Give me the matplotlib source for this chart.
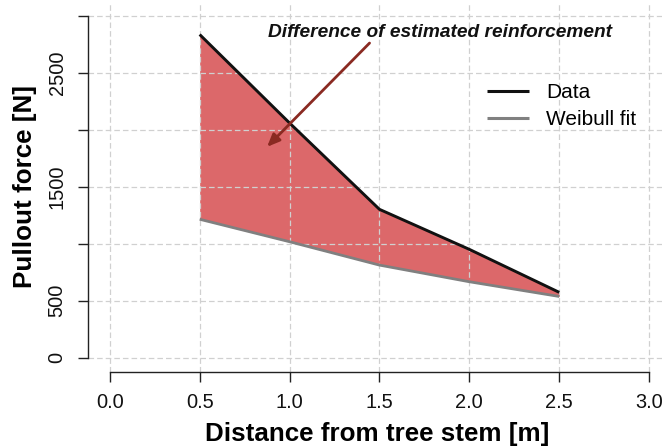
import matplotlib
matplotlib.use("Agg")
import matplotlib.pyplot as plt

plt.rcParams['font.family'] = ['Liberation Sans', 'DejaVu Sans']
plt.rcParams['lines.scale_dashes'] = False

# Pullout force along the distance from the stem
distance = [0.5, 1.0, 1.5, 2.0, 2.5]
force_data = [2835, 2059, 1302, 951, 574]
force_weibull = [1215, 1018, 813, 667, 538]

x_ticks = [0.0, 0.5, 1.0, 1.5, 2.0, 2.5, 3.0]
x_tick_labels = ["0.0", "0.5", "1.0", "1.5", "2.0", "2.5", "3.0"]
y_ticks = [0, 500, 1000, 1500, 2000, 2500, 3000]
y_tick_labels = ["0", "500", "", "1500", "", "2500", ""]

W, H = 662, 448
fig = plt.figure(figsize=(W / 100, H / 100), dpi=100)
ax = fig.add_axes([88.2 / W, (H - 371.5) / H, (670.7 - 88.2) / W, (371.5 - 2.0) / H])

ax.set_xlim(-0.12, 3.12)
ax.set_ylim(-120, 3120)

# shaded gap between measured and fitted force
ax.fill_between(distance, force_weibull, force_data, color='#DC686A',
                linewidth=0, zorder=0.2)

ax.set_axisbelow(True)
ax.grid(True, color='#D0D0D0', linewidth=0.9, linestyle=(0, (4.0, 2.2)))

ax.plot(distance, force_data, color='#111111', linewidth=2.1, zorder=3,
        label='Data', solid_capstyle='butt')
ax.plot(distance, force_weibull, color='#808080', linewidth=2.0, zorder=2.9,
        label='Weibull fit', solid_capstyle='butt')

ax.annotate('', xy=(0.875, 1850), xytext=(1.445, 2760),
            arrowprops=dict(arrowstyle='-|>,head_length=0.75,head_width=0.32',
                            color='#8A2A22', lw=2.0, shrinkA=0, shrinkB=0),
            zorder=4)
ax.text(1.839, 2813, 'Difference of estimated reinforcement',
        ha='center', va='baseline', fontsize=13.8, fontweight='bold',
        fontstyle='italic', color='#111111', zorder=5)

# R-style axes: spines only across the tick range
for side in ('top', 'right'):
    ax.spines[side].set_visible(False)
ax.spines['left'].set_bounds(0, 3000)
ax.spines['bottom'].set_bounds(0, 3)
for side in ('left', 'bottom'):
    ax.spines[side].set_color('#222222')
    ax.spines[side].set_linewidth(1.0)

ax.set_xticks(x_ticks)
ax.set_xticklabels(x_tick_labels)
ax.set_yticks(y_ticks)
ax.set_yticklabels(y_tick_labels, rotation=90, va='center')
ax.tick_params(axis='both', length=7.5, width=1.0, color='#222222',
               labelsize=14.4, labelcolor='#111111')
ax.tick_params(axis='x', pad=8)
ax.tick_params(axis='y', pad=8)

ax.set_xlabel('Distance from tree stem [m]', fontsize=18.7, fontweight='bold')
ax.xaxis.set_label_coords(0.496, -0.137)
ax.xaxis.label.set_va('top')
ax.set_ylabel('Pullout force [N]', fontsize=18.7, fontweight='bold')
ax.yaxis.set_label_coords(-0.0879, 0.5)

leg = ax.legend(loc='upper left', frameon=False, fontsize=15,
                handlelength=2.0, handletextpad=0.85, labelspacing=0.38,
                borderpad=0, borderaxespad=0,
                bbox_to_anchor=(487 / W, (H - 83.5) / H),
                bbox_transform=fig.transFigure)
for line in leg.get_lines():
    line.set_linewidth(2.2)

fig.savefig('out.png', dpi=100)
